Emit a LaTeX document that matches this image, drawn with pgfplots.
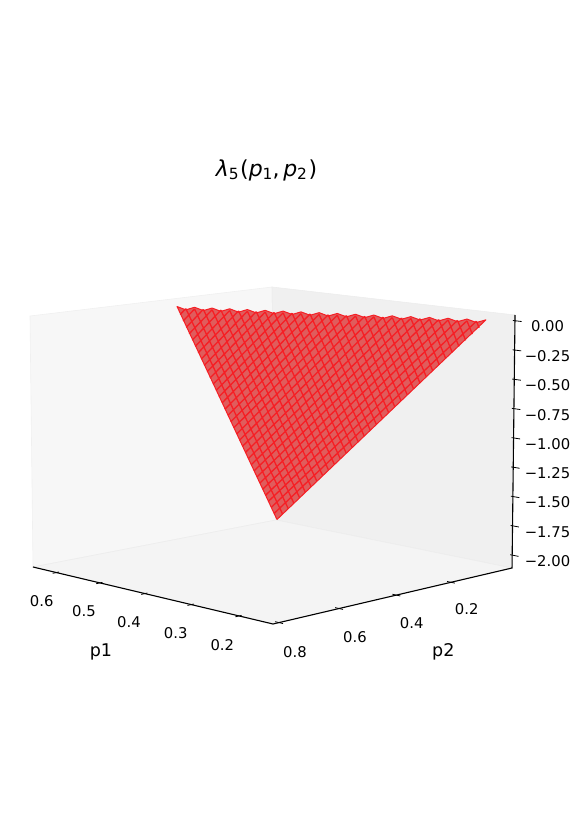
\documentclass[border=0pt]{standalone}
\usepackage{pgfplots}
\pgfplotsset{compat=1.18}
\usepackage{fontspec}
\setmainfont{DejaVu Sans}
\definecolor{surffill}{RGB}{224,92,92}
\definecolor{surfline}{RGB}{246,30,36}
% view of the box: p1 0.131..0.655, p2 -0.0346..0.8195, lambda -2.11..0.049, perspective as in the reference
\pgfplotsset{
  table/proj/.style={
    x expr={px(\thisrow{p1},\thisrow{p2},\thisrow{lam})},
    y expr={py(\thisrow{p1},\thisrow{p2},\thisrow{lam})}
  }
}
\begin{document}
\begin{tikzpicture}
\path[use as bounding box] (0,0) rectangle (581bp,823bp);
\begin{axis}[
  at={(0,0)},anchor=south west,
  scale only axis,width=581bp,height=823bp,
  xmin=0,xmax=581,ymin=0,ymax=823,y dir=reverse,
  hide axis,clip=false,
  unbounded coords=jump,
  declare function={
    aa(\p)=(\p-0.131)/0.524;
    bb(\q)=(0.8195-\q)/0.854;
    cc(\z)=(\z+2.11)/2.159;
    bw(\a,\b)=1+0.0849*\a+0.10437*\b;
    tw(\a,\b)=1+0.10548*\a+0.10504*\b;
    bx(\a,\b)=(273-237.2*\a+292.44*\b)/bw(\a,\b);
    by(\a,\b)=(624-8.86*\a+3.28*\b)/bw(\a,\b);
    tx(\a,\b)=(273-239.84*\a+296.1*\b)/tw(\a,\b);
    ty(\a,\b)=(350-0.67*\a-1.91*\b)/tw(\a,\b);
    px(\p,\q,\z)=bx(aa(\p),bb(\q))*(1-cc(\z))+tx(aa(\p),bb(\q))*cc(\z);
    py(\p,\q,\z)=by(aa(\p),bb(\q))*(1-cc(\z))+ty(aa(\p),bb(\q))*cc(\z);
  },
]
% panes
\addplot[fill=black!3,draw=black!6,line width=.6bp] table[proj] {
p1 p2 lam
0.655 0.8195 -2.11
0.655 0.8195 0.049
0.655 -0.0346 0.049
0.655 -0.0346 -2.11
0.655 0.8195 -2.11
};
\addplot[fill=black!6,draw=black!7,line width=.6bp] table[proj] {
p1 p2 lam
0.655 -0.0346 -2.11
0.655 -0.0346 0.049
0.131 -0.0346 0.049
0.131 -0.0346 -2.11
0.655 -0.0346 -2.11
};
\addplot[fill=black!4.5,draw=black!7,line width=.6bp] table[proj] {
p1 p2 lam
0.131 0.8195 -2.11
0.655 0.8195 -2.11
0.655 -0.0346 -2.11
0.131 -0.0346 -2.11
0.131 0.8195 -2.11
};
% surface outline with the stepped upper edge
\addplot[fill=surffill,draw=surfline,line width=1bp,line join=round] table[proj] {
p1 p2 lam
0.6420 -0.0174 -2.0870
0.1800 -0.0174 -0.012
0.1936 -0.0069 -0.038
0.2072 0.0036 -0.012
0.2208 0.0141 -0.038
0.2344 0.0246 -0.012
0.2479 0.0350 -0.038
0.2615 0.0455 -0.012
0.2751 0.0560 -0.038
0.2887 0.0665 -0.012
0.3023 0.0770 -0.038
0.3159 0.0875 -0.012
0.3295 0.0980 -0.038
0.3431 0.1085 -0.012
0.3566 0.1189 -0.038
0.3702 0.1294 -0.012
0.3838 0.1399 -0.038
0.3974 0.1504 -0.012
0.4110 0.1609 -0.038
0.4246 0.1714 -0.012
0.4382 0.1819 -0.038
0.4518 0.1924 -0.012
0.4653 0.2028 -0.038
0.4789 0.2133 -0.012
0.4925 0.2238 -0.038
0.5061 0.2343 -0.012
0.5197 0.2448 -0.038
0.5333 0.2553 -0.012
0.5469 0.2658 -0.038
0.5605 0.2763 -0.012
0.5740 0.2867 -0.038
0.5876 0.2972 -0.012
0.6012 0.3077 -0.038
0.6148 0.3182 -0.012
0.6284 0.3287 -0.038
0.6420 0.3392 -0.012
0.6420 -0.0174 -2.0870
};
% surface mesh lines
\addplot[draw=surfline,line width=1.3bp] table[proj] {
p1 p2 lam
0.1936 -0.0174 -0.0876
0.1936 -0.0069 -0.027
nan nan nan
0.2072 -0.0174 -0.1482
0.2072 0.0036 -0.027
nan nan nan
0.2208 -0.0174 -0.2088
0.2208 0.0141 -0.027
nan nan nan
0.2344 -0.0174 -0.2694
0.2344 0.0246 -0.027
nan nan nan
0.2479 -0.0174 -0.3299
0.2479 0.0350 -0.027
nan nan nan
0.2615 -0.0174 -0.3905
0.2615 0.0455 -0.027
nan nan nan
0.2751 -0.0174 -0.4511
0.2751 0.0560 -0.027
nan nan nan
0.2887 -0.0174 -0.5117
0.2887 0.0665 -0.027
nan nan nan
0.3023 -0.0174 -0.5723
0.3023 0.0770 -0.027
nan nan nan
0.3159 -0.0174 -0.6329
0.3159 0.0875 -0.027
nan nan nan
0.3295 -0.0174 -0.6935
0.3295 0.0980 -0.027
nan nan nan
0.3431 -0.0174 -0.7541
0.3431 0.1085 -0.027
nan nan nan
0.3566 -0.0174 -0.8146
0.3566 0.1189 -0.027
nan nan nan
0.3702 -0.0174 -0.8752
0.3702 0.1294 -0.027
nan nan nan
0.3838 -0.0174 -0.9358
0.3838 0.1399 -0.027
nan nan nan
0.3974 -0.0174 -0.9964
0.3974 0.1504 -0.027
nan nan nan
0.4110 -0.0174 -1.0570
0.4110 0.1609 -0.027
nan nan nan
0.4246 -0.0174 -1.1176
0.4246 0.1714 -0.027
nan nan nan
0.4382 -0.0174 -1.1782
0.4382 0.1819 -0.027
nan nan nan
0.4518 -0.0174 -1.2388
0.4518 0.1924 -0.027
nan nan nan
0.4653 -0.0174 -1.2993
0.4653 0.2028 -0.027
nan nan nan
0.4789 -0.0174 -1.3599
0.4789 0.2133 -0.027
nan nan nan
0.4925 -0.0174 -1.4205
0.4925 0.2238 -0.027
nan nan nan
0.5061 -0.0174 -1.4811
0.5061 0.2343 -0.027
nan nan nan
0.5197 -0.0174 -1.5417
0.5197 0.2448 -0.027
nan nan nan
0.5333 -0.0174 -1.6023
0.5333 0.2553 -0.027
nan nan nan
0.5469 -0.0174 -1.6629
0.5469 0.2658 -0.027
nan nan nan
0.5605 -0.0174 -1.7235
0.5605 0.2763 -0.027
nan nan nan
0.5740 -0.0174 -1.7840
0.5740 0.2867 -0.027
nan nan nan
0.5876 -0.0174 -1.8446
0.5876 0.2972 -0.027
nan nan nan
0.6012 -0.0174 -1.9052
0.6012 0.3077 -0.027
nan nan nan
0.6148 -0.0174 -1.9658
0.6148 0.3182 -0.027
nan nan nan
0.6284 -0.0174 -2.0264
0.6284 0.3287 -0.027
nan nan nan
0.1936 -0.0069 -0.027
0.6420 -0.0069 -2.0264
nan nan nan
0.2072 0.0036 -0.027
0.6420 0.0036 -1.9658
nan nan nan
0.2208 0.0141 -0.027
0.6420 0.0141 -1.9052
nan nan nan
0.2344 0.0246 -0.027
0.6420 0.0246 -1.8446
nan nan nan
0.2479 0.0350 -0.027
0.6420 0.0350 -1.7840
nan nan nan
0.2615 0.0455 -0.027
0.6420 0.0455 -1.7235
nan nan nan
0.2751 0.0560 -0.027
0.6420 0.0560 -1.6629
nan nan nan
0.2887 0.0665 -0.027
0.6420 0.0665 -1.6023
nan nan nan
0.3023 0.0770 -0.027
0.6420 0.0770 -1.5417
nan nan nan
0.3159 0.0875 -0.027
0.6420 0.0875 -1.4811
nan nan nan
0.3295 0.0980 -0.027
0.6420 0.0980 -1.4205
nan nan nan
0.3431 0.1085 -0.027
0.6420 0.1085 -1.3599
nan nan nan
0.3566 0.1189 -0.027
0.6420 0.1189 -1.2993
nan nan nan
0.3702 0.1294 -0.027
0.6420 0.1294 -1.2388
nan nan nan
0.3838 0.1399 -0.027
0.6420 0.1399 -1.1782
nan nan nan
0.3974 0.1504 -0.027
0.6420 0.1504 -1.1176
nan nan nan
0.4110 0.1609 -0.027
0.6420 0.1609 -1.0570
nan nan nan
0.4246 0.1714 -0.027
0.6420 0.1714 -0.9964
nan nan nan
0.4382 0.1819 -0.027
0.6420 0.1819 -0.9358
nan nan nan
0.4518 0.1924 -0.027
0.6420 0.1924 -0.8752
nan nan nan
0.4653 0.2028 -0.027
0.6420 0.2028 -0.8146
nan nan nan
0.4789 0.2133 -0.027
0.6420 0.2133 -0.7541
nan nan nan
0.4925 0.2238 -0.027
0.6420 0.2238 -0.6935
nan nan nan
0.5061 0.2343 -0.027
0.6420 0.2343 -0.6329
nan nan nan
0.5197 0.2448 -0.027
0.6420 0.2448 -0.5723
nan nan nan
0.5333 0.2553 -0.027
0.6420 0.2553 -0.5117
nan nan nan
0.5469 0.2658 -0.027
0.6420 0.2658 -0.4511
nan nan nan
0.5605 0.2763 -0.027
0.6420 0.2763 -0.3905
nan nan nan
0.5740 0.2867 -0.027
0.6420 0.2867 -0.3299
nan nan nan
0.5876 0.2972 -0.027
0.6420 0.2972 -0.2694
nan nan nan
0.6012 0.3077 -0.027
0.6420 0.3077 -0.2088
nan nan nan
0.6148 0.3182 -0.027
0.6420 0.3182 -0.1482
nan nan nan
0.6284 0.3287 -0.027
0.6420 0.3287 -0.0876
};
% axis lines
\addplot[draw=black,line width=1.1bp] table[proj] {
p1 p2 lam
0.655 0.8195 -2.11
0.131 0.8195 -2.11
0.131 -0.0346 -2.11
0.131 -0.0346 0.049
};
% ticks
\addplot[draw=black,line width=.8bp] table[proj] {
p1 p2 lam
0.6 0.8115 -2.11
0.6 0.8315 -2.11
nan nan nan
0.5 0.8115 -2.11
0.5 0.8315 -2.11
nan nan nan
0.4 0.8115 -2.11
0.4 0.8315 -2.11
nan nan nan
0.3 0.8115 -2.11
0.3 0.8315 -2.11
nan nan nan
0.2 0.8115 -2.11
0.2 0.8315 -2.11
nan nan nan
0.139 0.8 -2.11
0.123 0.8 -2.11
nan nan nan
0.139 0.6 -2.11
0.123 0.6 -2.11
nan nan nan
0.139 0.4 -2.11
0.123 0.4 -2.11
nan nan nan
0.139 0.2 -2.11
0.123 0.2 -2.11
nan nan nan
0.135 -0.0346 0
0.118 -0.0346 0
nan nan nan
0.135 -0.0346 -0.25
0.118 -0.0346 -0.25
nan nan nan
0.135 -0.0346 -0.5
0.118 -0.0346 -0.5
nan nan nan
0.135 -0.0346 -0.75
0.118 -0.0346 -0.75
nan nan nan
0.135 -0.0346 -1
0.118 -0.0346 -1
nan nan nan
0.135 -0.0346 -1.25
0.118 -0.0346 -1.25
nan nan nan
0.135 -0.0346 -1.5
0.118 -0.0346 -1.5
nan nan nan
0.135 -0.0346 -1.75
0.118 -0.0346 -1.75
nan nan nan
0.135 -0.0346 -2
0.118 -0.0346 -2
};
% texts
\def\tl#1#2#3{\node[inner sep=0pt,anchor=center,font=\fontsize{14.8bp}{17bp}\selectfont] at (axis cs:#1,#2) {#3};}
\tl{41.7}{600.7}{0.6}
\tl{84}{610.7}{0.5}
\tl{129}{621.7}{0.4}
\tl{175.7}{632.7}{0.3}
\tl{222.3}{645}{0.2}
\tl{295}{651.7}{0.8}
\tl{355}{636.7}{0.6}
\tl{411.7}{622.7}{0.4}
\tl{466.7}{609.3}{0.2}
\tl{547.5}{326.5}{0.00}
\tl{547.5}{356}{−0.25}
\tl{547.5}{385.4}{−0.50}
\tl{547.5}{414.7}{−0.75}
\tl{547.5}{444}{−1.00}
\tl{547.5}{473.2}{−1.25}
\tl{547.5}{502.6}{−1.50}
\tl{547.5}{531.9}{−1.75}
\tl{547.5}{561}{−2.00}
\node[inner sep=0pt,font=\fontsize{17.5bp}{20bp}\selectfont] at (axis cs:101,652) {p1};
\node[inner sep=0pt,font=\fontsize{17.5bp}{20bp}\selectfont] at (axis cs:443.3,652) {p2};
\node[inner sep=0pt,font=\fontsize{22bp}{25bp}\selectfont] at (axis cs:266.5,170) {\itshape λ\raisebox{-.17em}{\fontsize{15.4bp}{15bp}\selectfont\upshape 5}\hspace{.07em}\upshape(\itshape p\raisebox{-.17em}{\fontsize{15.4bp}{15bp}\selectfont\upshape 1}\upshape,\hspace{.17em}\itshape p\raisebox{-.17em}{\fontsize{15.4bp}{15bp}\selectfont\upshape 2}\hspace{.07em}\upshape)};
\end{axis}
\end{tikzpicture}
\end{document}
